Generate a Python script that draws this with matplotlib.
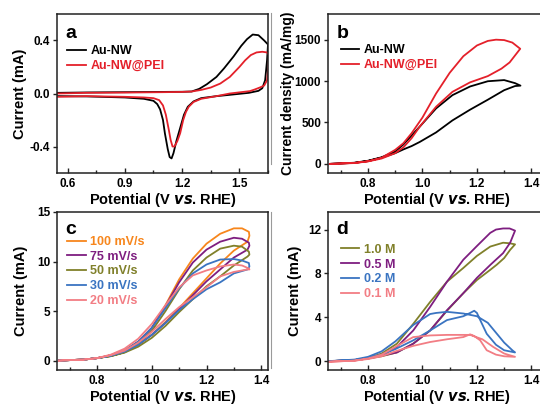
import matplotlib
matplotlib.use("Agg")
import matplotlib.pyplot as plt
from matplotlib.lines import Line2D
from matplotlib.ticker import MultipleLocator, FormatStrFormatter

plt.rcParams['font.family'] = ['Liberation Sans', 'DejaVu Sans']
plt.rcParams['font.weight'] = 'bold'

# ---------------- Panel a data (CV, Au-NW vs Au-NW@PEI) ----------------
a_nw_V = [0.55, 0.7, 0.9, 1.1, 1.2, 1.25, 1.29, 1.33, 1.38, 1.42, 1.47, 1.51, 1.54, 1.57, 1.6, 1.63, 1.65,
          1.645, 1.635, 1.62, 1.6, 1.55, 1.45, 1.38, 1.3, 1.26, 1.23, 1.21, 1.19, 1.17, 1.155, 1.145, 1.135,
          1.125, 1.11, 1.1, 1.085, 1.07, 1.05, 1.0, 0.9, 0.7, 0.55]
a_nw_I = [0.005, 0.008, 0.01, 0.012, 0.013, 0.015, 0.035, 0.07, 0.125, 0.19, 0.28, 0.36, 0.41, 0.445, 0.44, 0.40, 0.37,
          0.25, 0.10, 0.04, 0.02, 0.005, -0.01, -0.02, -0.035, -0.06, -0.10, -0.16, -0.26, -0.36, -0.45, -0.49, -0.48,
          -0.42, -0.30, -0.20, -0.12, -0.08, -0.055, -0.04, -0.03, -0.022, -0.02]
a_pei_V = [0.55, 0.7, 0.9, 1.1, 1.2, 1.25, 1.3, 1.35, 1.4, 1.45, 1.5, 1.53, 1.56, 1.59, 1.62, 1.645, 1.655,
           1.652, 1.645, 1.63, 1.607, 1.58, 1.555, 1.45, 1.38, 1.3, 1.26, 1.235, 1.22, 1.206, 1.19, 1.175, 1.16,
           1.15, 1.14, 1.13, 1.115, 1.1, 1.08, 1.05, 1.0, 0.9, 0.7, 0.55]
a_pei_I = [0.0, 0.005, 0.007, 0.01, 0.012, 0.015, 0.027, 0.045, 0.075, 0.125, 0.20, 0.25, 0.29, 0.31, 0.315, 0.31, 0.29,
           0.20, 0.10, 0.06, 0.045, 0.03, 0.018, 0.0, -0.02, -0.04, -0.064, -0.10, -0.14, -0.20, -0.30, -0.36, -0.40,
           -0.40, -0.35, -0.27, -0.16, -0.09, -0.05, -0.035, -0.03, -0.025, -0.02, -0.025]

# ---------------- Panel b data (mass activity) ----------------
b_nw_V = [0.66, 0.75, 0.8, 0.85, 0.9, 0.93, 0.96, 0.99, 1.05, 1.11, 1.175, 1.24, 1.3, 1.34, 1.36,
          1.34, 1.3, 1.24, 1.175, 1.11, 1.05, 0.99, 0.93, 0.9, 0.85, 0.8, 0.75, 0.66]
b_nw_J = [0, 12, 35, 75, 130, 175, 215, 265, 380, 525, 655, 775, 890, 940, 945,
          975, 1012, 998, 935, 830, 670, 450, 235, 150, 80, 38, 14, 0]
b_pei_V = [0.66, 0.75, 0.8, 0.85, 0.9, 0.93, 0.96, 0.99, 1.05, 1.11, 1.175, 1.24, 1.29, 1.32, 1.359,
           1.33, 1.3, 1.27, 1.24, 1.2, 1.15, 1.1, 1.05, 1.0, 0.96, 0.93, 0.9, 0.85, 0.8, 0.75, 0.66]
b_pei_J = [0, 10, 30, 65, 130, 200, 310, 450, 690, 870, 985, 1060, 1150, 1225, 1390,
           1465, 1495, 1500, 1485, 1430, 1300, 1100, 850, 560, 370, 250, 170, 75, 32, 12, 0]

# ---------------- Panel c data (scan rates) ----------------
c_labels = ['100 mV/s', '75 mV/s', '50 mV/s', '30 mV/s', '20 mV/s']
c_colors = ['#F7861C', '#7E1E80', '#80802A', '#3A74C1', '#F27D84']
c_fwd_V = [0.66, 0.7, 0.75, 0.8, 0.85, 0.9, 0.95, 1.0, 1.05, 1.1, 1.15, 1.2, 1.25, 1.3, 1.35]
c_rev_V = [1.357, 1.355, 1.33, 1.3, 1.25, 1.2, 1.15, 1.1, 1.05, 1.0, 0.95, 0.9, 0.85, 0.8, 0.75, 0.7, 0.66]
c_fwd_I = [
    [0.0, 0.05, 0.1, 0.25, 0.5, 0.9, 1.6, 2.6, 3.9, 5.3, 6.8, 8.3, 9.8, 11.1, 12.0],
    [0.0, 0.05, 0.1, 0.25, 0.5, 0.9, 1.6, 2.6, 3.8, 5.2, 6.6, 8.0, 9.2, 10.4, 11.2],
    [0.0, 0.05, 0.1, 0.25, 0.45, 0.8, 1.4, 2.3, 3.5, 4.9, 6.2, 7.5, 8.5, 9.6, 10.5],
    [0.0, 0.05, 0.1, 0.25, 0.5, 0.9, 1.6, 2.6, 3.8, 5.1, 6.2, 7.2, 7.9, 8.8, 9.2],
    [0.0, 0.05, 0.1, 0.25, 0.55, 1.0, 1.8, 2.9, 4.2, 5.4, 6.4, 7.4, 8.5, 8.95, 9.2],
]
c_rev_I = [
    [12.6, 13.0, 13.35, 13.35, 12.8, 11.8, 10.3, 8.2, 5.6, 3.3, 1.9, 1.0, 0.5, 0.25, 0.1, 0.05, 0.0],
    [11.6, 11.9, 12.3, 12.4, 12.0, 11.2, 9.9, 7.9, 5.5, 3.3, 1.9, 1.0, 0.5, 0.25, 0.1, 0.05, 0.0],
    [10.7, 11.0, 11.5, 11.6, 11.3, 10.4, 9.1, 7.2, 5.0, 3.0, 1.7, 0.85, 0.45, 0.25, 0.1, 0.05, 0.0],
    [9.5, 9.85, 10.1, 10.25, 10.2, 9.7, 8.8, 7.3, 5.3, 3.3, 1.9, 1.0, 0.5, 0.25, 0.1, 0.05, 0.0],
    [9.2, 9.3, 9.6, 9.7, 9.5, 9.1, 8.6, 7.4, 5.6, 3.7, 2.2, 1.2, 0.6, 0.25, 0.1, 0.05, 0.0],
]

# ---------------- Panel d data (concentrations) ----------------
d_labels = ['1.0 M', '0.5 M', '0.2 M', '0.1 M']
d_colors = ['#80802A', '#7E1E80', '#3A74C1', '#F27D84']
d_V = [
    [0.65, 0.75, 0.8, 0.85, 0.906, 0.966, 1.028, 1.09, 1.15, 1.2, 1.25, 1.273, 1.3, 1.322, 1.34,
     1.32, 1.296, 1.249, 1.2, 1.15, 1.09, 1.028, 0.966, 0.906, 0.85, 0.8, 0.75, 0.65],
    [0.65, 0.75, 0.8, 0.85, 0.906, 0.966, 1.028, 1.09, 1.15, 1.2, 1.25, 1.296, 1.322, 1.34,
     1.32, 1.296, 1.27, 1.249, 1.2, 1.15, 1.09, 1.028, 0.966, 0.906, 0.85, 0.8, 0.75, 0.65],
    [0.65, 0.75, 0.8, 0.85, 0.9, 0.966, 1.028, 1.09, 1.15, 1.175, 1.19, 1.2, 1.212, 1.236, 1.27, 1.3, 1.34,
     1.33, 1.3, 1.27, 1.24, 1.2, 1.15, 1.09, 1.05, 1.028, 0.966, 0.9, 0.85, 0.8, 0.75, 0.65],
    [0.65, 0.75, 0.8, 0.85, 0.9, 0.966, 1.028, 1.09, 1.15, 1.175, 1.19, 1.212, 1.236, 1.27, 1.3, 1.34,
     1.3, 1.26, 1.22, 1.175, 1.15, 1.09, 1.028, 0.966, 0.9, 0.85, 0.8, 0.75, 0.65],
]
d_I = [
    [0.0, 0.1, 0.25, 0.45, 0.8, 1.6, 2.8, 4.6, 6.2, 7.4, 8.35, 8.8, 9.4, 10.15, 10.65,
     10.75, 10.8, 10.45, 9.6, 8.5, 7.25, 5.4, 3.4, 1.6, 0.7, 0.3, 0.1, 0.0],
    [0.0, 0.1, 0.25, 0.5, 0.8, 1.6, 2.8, 4.65, 6.2, 7.6, 8.8, 9.85, 10.8, 11.9,
     12.1, 12.1, 12.0, 11.7, 10.5, 9.25, 7.25, 4.95, 2.8, 1.3, 0.55, 0.25, 0.1, 0.0],
    [0.0, 0.1, 0.3, 0.6, 1.1, 1.9, 2.8, 3.75, 4.1, 4.4, 4.6, 4.4, 3.75, 2.5, 1.5, 1.0, 0.8,
     1.0, 1.7, 2.6, 3.5, 4.1, 4.35, 4.5, 4.4, 4.3, 3.3, 1.8, 0.9, 0.4, 0.15, 0.0],
    [-0.05, 0.05, 0.2, 0.45, 0.9, 1.4, 1.75, 2.0, 2.2, 2.45, 2.3, 1.9, 1.0, 0.6, 0.45, 0.4,
     0.7, 1.3, 2.0, 2.4, 2.4, 2.4, 2.35, 2.2, 1.3, 0.6, 0.25, 0.05, -0.05],
]

RED = '#E4202A'
LW = 1.3
W, H = 540, 407
fig = plt.figure(figsize=(W / 100, H / 100), dpi=100)

def px_axes(l, t, r, b):
    return fig.add_axes([l / W, 1 - b / H, (r - l) / W, (b - t) / H])

axa = px_axes(57, 14, 268, 173)
axb = px_axes(328, 14, 545, 173)
axc = px_axes(57, 212, 268, 370)
axd = px_axes(328, 212, 545, 370)

TICK_FS = 8.5
LAB_FS = 10.5
LEG_FS = 9

def style(ax):
    for s in ax.spines.values():
        s.set_linewidth(1.1)
        s.set_color('#222222')
    ax.tick_params(axis='x', which='both', direction='in', top=False, labelsize=TICK_FS, width=1.0, color='#222222')
    ax.tick_params(axis='x', which='major', length=3.5)
    ax.tick_params(axis='x', which='minor', length=2)
    ax.tick_params(axis='y', which='both', direction='out', right=False, labelsize=TICK_FS, width=1.0,
                   length=3, color='#222222', pad=2)
    ax.set_xlabel('Potential (V $\\bf{\\it{vs}}$. RHE)', fontsize=LAB_FS, fontweight='bold', labelpad=1)
    for lab in ax.get_xticklabels() + ax.get_yticklabels():
        lab.set_fontweight('bold')

def legend(ax, bbox):
    lg = ax.legend(loc='upper left', bbox_to_anchor=bbox, frameon=False, fontsize=LEG_FS,
                   handlelength=1.5, handletextpad=0.35, labelspacing=0.22, borderaxespad=0,
                   labelcolor='linecolor', prop={'weight': 'bold', 'size': LEG_FS})
    return lg

# ---- a ----
axa.plot(a_nw_V, a_nw_I, color='black', lw=LW, label='Au-NW')
axa.plot(a_pei_V, a_pei_I, color=RED, lw=LW, label='Au-NW@PEI')
axa.set_xlim(0.545, 1.65)
axa.set_ylim(-0.6, 0.6)
axa.xaxis.set_major_locator(MultipleLocator(0.3))
axa.xaxis.set_minor_locator(MultipleLocator(0.15))
axa.yaxis.set_major_locator(MultipleLocator(0.4))
axa.xaxis.set_major_formatter(FormatStrFormatter('%.1f'))
axa.yaxis.set_major_formatter(FormatStrFormatter('%.1f'))
style(axa)
axa.set_ylabel('Current (mA)', fontsize=LAB_FS, fontweight='bold', labelpad=2)
legend(axa, (0.025, 0.835))
axa.text(0.04, 0.93, 'a', transform=axa.transAxes, fontsize=14, fontweight='bold', va='top', ha='left')

# ---- b ----
axb.plot(b_nw_V, b_nw_J, color='black', lw=LW, label='Au-NW')
axb.plot(b_pei_V, b_pei_J, color=RED, lw=LW, label='Au-NW@PEI')
axb.set_xlim(0.653, 1.45)
axb.set_ylim(-110, 1810)
axb.xaxis.set_major_locator(MultipleLocator(0.2))
axb.xaxis.set_minor_locator(MultipleLocator(0.1))
axb.yaxis.set_major_locator(MultipleLocator(500))
axb.xaxis.set_major_formatter(FormatStrFormatter('%.1f'))
style(axb)
axb.set_ylabel('Current density (mA/mg)', fontsize=10, fontweight='bold', labelpad=0)
legend(axb, (0.035, 0.84))
axb.text(0.04, 0.93, 'b', transform=axb.transAxes, fontsize=14, fontweight='bold', va='top', ha='left')

# ---- c ----
for i in range(len(c_labels)):
    axc.plot(c_fwd_V + c_rev_V, c_fwd_I[i] + c_rev_I[i], color=c_colors[i], lw=LW, label=c_labels[i])
axc.set_xlim(0.653, 1.425)
axc.set_ylim(-0.95, 15)
axc.xaxis.set_major_locator(MultipleLocator(0.2))
axc.xaxis.set_minor_locator(MultipleLocator(0.1))
axc.yaxis.set_major_locator(MultipleLocator(5))
axc.xaxis.set_major_formatter(FormatStrFormatter('%.1f'))
style(axc)
axc.set_ylabel('Current (mA)', fontsize=LAB_FS, fontweight='bold', labelpad=6)
legend(axc, (0.025, 0.88))
axc.text(0.04, 0.94, 'c', transform=axc.transAxes, fontsize=14, fontweight='bold', va='top', ha='left')

# ---- d ----
for i in range(len(d_labels)):
    axd.plot(d_V[i], d_I[i], color=d_colors[i], lw=LW, label=d_labels[i])
axd.set_xlim(0.653, 1.45)
axd.set_ylim(-0.8, 13.6)
axd.xaxis.set_major_locator(MultipleLocator(0.2))
axd.xaxis.set_minor_locator(MultipleLocator(0.1))
axd.yaxis.set_major_locator(MultipleLocator(4))
axd.xaxis.set_major_formatter(FormatStrFormatter('%.1f'))
style(axd)
axd.set_ylabel('Current (mA)', fontsize=LAB_FS, fontweight='bold', labelpad=4)
legend(axd, (0.035, 0.83))
axd.text(0.04, 0.94, 'd', transform=axd.transAxes, fontsize=14, fontweight='bold', va='top', ha='left')

# thin grey separators (image edges in the original composite)
fig.add_artist(Line2D([271 / W, 271 / W], [1 - 13 / H, 1 - 164 / H], color='#9a9a9a', lw=0.8))
fig.add_artist(Line2D([271 / W, 271 / W], [1 - 212 / H, 1 - 368 / H], color='#9a9a9a', lw=0.8))

fig.savefig('out.png', dpi=100)
